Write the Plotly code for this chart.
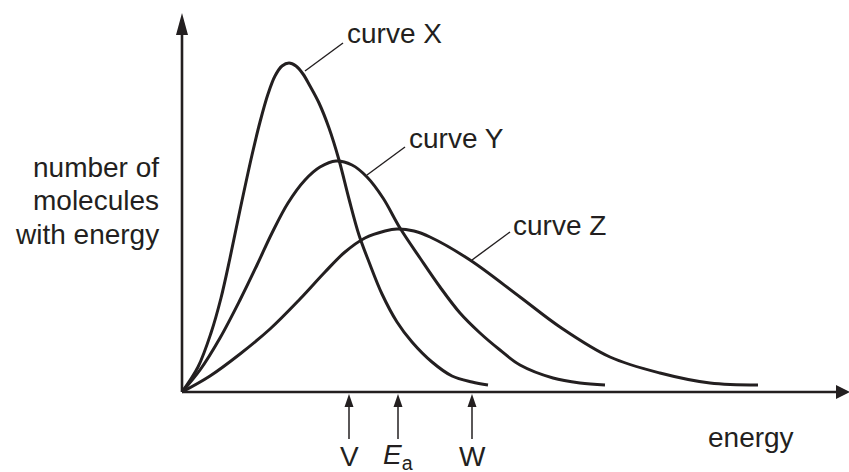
import plotly.graph_objects as go

# ---- data (energy, number of molecules) ----
curve_x_energy = [0, 16, 29, 39, 48, 58, 70, 78, 86, 93, 100, 107, 114, 121, 128, 137, 147, 157, 167, 177, 187, 200, 215, 230, 250, 270, 290, 306]
curve_x_count = [0, 25, 59, 94, 134, 182, 237, 270, 298, 316, 326, 329, 326, 318, 306, 289, 264, 232, 193, 157, 130, 98, 70, 50, 30, 16, 10, 7]

curve_y_energy = [0, 18, 38, 58, 75, 90, 106, 123, 138, 154, 170, 185, 201, 218, 238, 258, 278, 298, 318, 338, 371, 398, 423]
curve_y_count = [0, 22, 54, 92, 127, 159, 189, 212, 225, 231, 227, 215, 194, 164, 134, 105, 79, 59, 42, 27, 14, 9, 7]

curve_z_energy = [0, 28, 58, 88, 118, 143, 163, 183, 203, 215, 232, 248, 288, 338, 378, 428, 478, 528, 576]
curve_z_count = [0, 16, 38, 63, 93, 120, 140, 154, 161, 163, 161, 155, 132, 95, 65, 35, 19, 9, 7]

curve_names = ["curve X", "curve Y", "curve Z"]
# label anchor (left, middle) and leader line (from curve point to label)
label_pos = [(164, 359), (226, 254), (330, 167)]
leader_from = [(123, 321), (185, 217), (290, 132)]
leader_to = [(161, 349), (223, 245), (328, 160)]

marker_labels = ["V", "<i>E</i><sub>a</sub>", "W"]
marker_energy = [167, 216, 290]

ytitle_lines = ["number of", "molecules", "with energy"]
xtitle = "energy"

X_MAX = 667
Y_MAX = 379

INK = "#231f20"
FONT = "Liberation Sans, Arial, sans-serif"
FS = 28

fig = go.Figure()
for ex, cy in [(curve_x_energy, curve_x_count), (curve_y_energy, curve_y_count), (curve_z_energy, curve_z_count)]:
    fig.add_trace(go.Scatter(x=ex, y=cy, mode="lines",
                             line=dict(color=INK, width=3, shape="spline", smoothing=1.0),
                             hoverinfo="skip", showlegend=False))

shapes = []
annotations = []

# axes with arrowheads
head_len, head_half = 22, 6
shapes.append(dict(type="line", xref="x", yref="y", x0=0, y0=0, x1=0, y1=Y_MAX - head_len + 2,
                   line=dict(color=INK, width=2.6)))
shapes.append(dict(type="path", xref="x", yref="y",
                   path=f"M {-head_half} {Y_MAX - head_len} L {head_half} {Y_MAX - head_len} L 0 {Y_MAX} Z",
                   fillcolor=INK, line=dict(color=INK, width=0)))
xh_len, xh_half = 14, 7
x_tip = X_MAX + 1
shapes.append(dict(type="line", xref="x", yref="y", x0=0, y0=0, x1=x_tip - xh_len + 2, y1=0,
                   line=dict(color=INK, width=2.6)))
shapes.append(dict(type="path", xref="x", yref="y",
                   path=f"M {x_tip - xh_len} {-xh_half} L {x_tip - xh_len} {xh_half} L {x_tip} 0 Z",
                   fillcolor=INK, line=dict(color=INK, width=0)))

# energy markers V, Ea, W
for e, lab in zip(marker_energy, marker_labels):
    shapes.append(dict(type="line", xref="x", yref="y", x0=e, y0=-47, x1=e, y1=-12,
                       line=dict(color=INK, width=1.5)))
    shapes.append(dict(type="path", xref="x", yref="y",
                       path=f"M {e - 4.5} -15 L {e + 4.5} -15 L {e} -2 Z",
                       fillcolor=INK, line=dict(color=INK, width=0)))
    annotations.append(dict(x=e, y=-64, xref="x", yref="y", text=lab, showarrow=False,
                            xanchor="center", yanchor="middle",
                            font=dict(family=FONT, size=FS, color=INK)))

# curve labels and leaders
for name, (lx, ly), (fx, fy), (tx, ty) in zip(curve_names, label_pos, leader_from, leader_to):
    shapes.append(dict(type="line", xref="x", yref="y", x0=fx, y0=fy, x1=tx, y1=ty,
                       line=dict(color=INK, width=1.4)))
    annotations.append(dict(x=lx, y=ly, xref="x", yref="y", text=name, showarrow=False,
                            xanchor="left", yanchor="middle", borderpad=0,
                            font=dict(family=FONT, size=FS, color=INK)))

# y title lines
for i, t in enumerate(ytitle_lines):
    annotations.append(dict(x=-22, y=225 - i * 33.5, xref="x", yref="y", text=t, showarrow=False,
                            xanchor="right", yanchor="middle", borderpad=0,
                            font=dict(family=FONT, size=FS, color=INK)))

# x title
annotations.append(dict(x=525, y=-45, xref="x", yref="y", text=xtitle, showarrow=False,
                        xanchor="left", yanchor="middle", borderpad=0,
                        font=dict(family=FONT, size=FS, color=INK)))

fig.update_layout(
    width=849, height=472,
    margin=dict(l=0, r=0, t=0, b=0),
    paper_bgcolor="white", plot_bgcolor="white",
    xaxis=dict(range=[-182, 667], visible=False, fixedrange=True),
    yaxis=dict(range=[-80, 392], visible=False, fixedrange=True),
    shapes=shapes, annotations=annotations, showlegend=False,
)

fig.write_html(
    "out.html",
    config={"displayModeBar": False},
    post_script="document.body.style.margin='0';document.body.style.overflow='hidden';",
)
